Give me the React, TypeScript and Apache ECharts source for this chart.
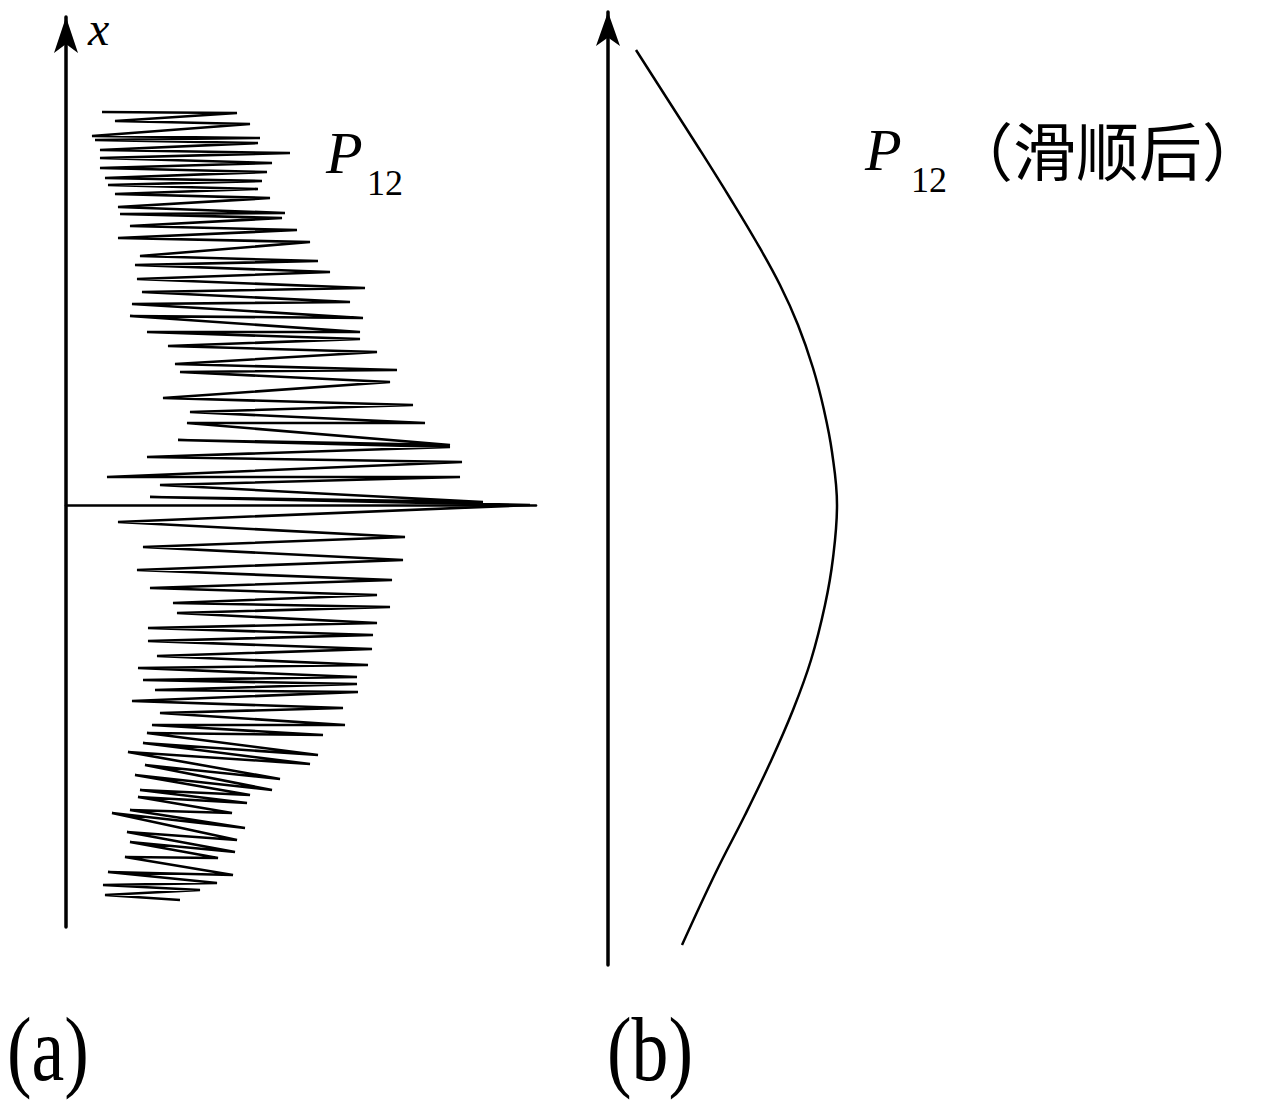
import React, { useEffect, useRef } from "react";
import * as echarts from "echarts";

// Panel (a): raw P12 zigzag. Points alternate left / right turning points.
// amplitude of P12 (horizontal) and position along x (vertical, 0 at the centre line)
const rawP12Amp = [
  36, 171, 49, 184, 26, 194, 29, 192, 34, 224, 34, 206, 34, 201, 39, 196, 42, 192, 49, 204,
  52, 219, 54, 216, 64, 231, 52, 244, 74, 252, 69, 264, 71, 299, 76, 284, 66, 297, 64, 294,
  81, 294, 102, 311, 109, 331, 114, 324, 97, 347, 124, 359, 121, 384, 112, 384, 81, 396, 41, 394,
  94, 417, 84, 464, 52, 339, 77, 337, 71, 326, 84, 311, 107, 324, 111, 311, 82, 307, 82, 306,
  91, 302, 72, 291, 77, 291, 89, 292, 66, 277, 94, 279, 86, 257, 81, 252, 77, 244, 62, 214,
  79, 206, 69, 184, 74, 181, 72, 166, 64, 179, 46, 171, 61, 169, 64, 152, 59, 167, 42, 151,
  37, 134, 39, 114,
];
const rawP12Pos = [
  393, 392, 384, 381, 369, 367, 365, 362, 355, 352, 347, 342, 337, 333, 327, 324, 320, 316, 311, 307,
  298, 292, 291, 287, 279, 275, 267, 263, 249, 244, 240, 233, 226, 217, 213, 203, 201, 187, 189, 173,
  173, 166, 159, 153, 141, 135, 133, 123, 107, 100, 93, 82, 82, 60, 65, 58, 48, 43, 28, 28,
  20, 3, 8, 0, -17, -32, -42, -55, -65, -75, -83, -90, -98, -102, -108, -118, -123, -130, -136, -144,
  -151, -160, -163, -172, -175, -179, -185, -187, -196, -203, -208, -220, -220, -230, -228, -250, -238, -259, -247, -274,
  -260, -285, -270, -290, -285, -298, -292, -308, -305, -323, -308, -335, -327, -347, -337, -353, -352, -370, -367, -378,
  -380, -385, -390, -395,
];

// Panel (b): smoothed P12
const smoothP12Amp = [28, 60, 92, 122, 149, 172, 190, 205, 216, 224, 229, 225, 217, 203, 185, 162, 137, 108, 74];
const smoothP12Pos = [455, 405, 355, 307, 262, 220, 180, 137, 95, 53, 0, -53, -100, -155, -205, -258, -310, -367, -440];

// Labels
const axisName = "x";
const seriesLabel = "P";
const seriesSub = "12";
const smoothNote = "（滑顺后）";
const panelLabels = ["(a)", "(b)"];

const SERIF = '"Liberation Serif"';
const CJK = '"Noto Sans CJK SC"';

function zip(a: number[], b: number[]) {
  const n = Math.min(a.length, b.length);
  const out: number[][] = [];
  for (let i = 0; i < n; i++) out.push([a[i], b[i]]);
  return out;
}

export default function App() {
  const ref = useRef<HTMLDivElement>(null);
  useEffect(() => {
    if (!ref.current) return;
    const chart = echarts.init(ref.current, undefined, { renderer: "svg" });
    const hidden = { show: false };
    const txt = (x: number, y: number, text: string, font: string, el: any = {}) => ({
      type: "text",
      x,
      y,
      ...el,
      style: {
        text,
        font,
        fill: "#000",
        align: "left",
        verticalAlign: "middle",
        textAlign: "left",
        textVerticalAlign: "middle",
      },
    });
    chart.setOption({
      animation: false,
      backgroundColor: "#fff",
      grid: [
        { left: 66, top: 17, width: 470, height: 910 },
        { left: 608, top: 12, width: 400, height: 953 },
      ],
      xAxis: [
        {
          type: "value",
          gridIndex: 0,
          min: 0,
          max: 470,
          axisLine: { show: true, onZero: true, lineStyle: { color: "#000", width: 2.6 } },
          axisTick: hidden,
          axisLabel: hidden,
          splitLine: hidden,
        },
        {
          type: "value",
          gridIndex: 1,
          min: 0,
          max: 400,
          axisLine: hidden,
          axisTick: hidden,
          axisLabel: hidden,
          splitLine: hidden,
        },
      ],
      yAxis: [
        {
          type: "value",
          gridIndex: 0,
          min: -422,
          max: 488,
          axisLine: {
            show: true,
            onZero: true,
            symbol: ["none", "arrow"],
            symbolSize: [18, 36],
            lineStyle: { color: "#000", width: 3.5 },
          },
          axisTick: hidden,
          axisLabel: hidden,
          splitLine: hidden,
        },
        {
          type: "value",
          gridIndex: 1,
          min: -460,
          max: 493,
          axisLine: {
            show: true,
            onZero: false,
            symbol: ["none", "arrow"],
            symbolSize: [18, 34],
            lineStyle: { color: "#000", width: 3.5 },
          },
          axisTick: hidden,
          axisLabel: hidden,
          splitLine: hidden,
        },
      ],
      series: [
        {
          type: "line",
          xAxisIndex: 0,
          yAxisIndex: 0,
          data: zip(rawP12Amp, rawP12Pos),
          showSymbol: false,
          lineStyle: { color: "#000", width: 2.6 },
          silent: true,
        },
        {
          type: "line",
          xAxisIndex: 1,
          yAxisIndex: 1,
          data: zip(smoothP12Amp, smoothP12Pos),
          smooth: 0.4,
          showSymbol: false,
          lineStyle: { color: "#000", width: 2.5 },
          silent: true,
        },
      ],
      graphic: [
        txt(88, 28, axisName, `italic 48px ${SERIF}`),
        txt(326, 153, seriesLabel, `italic 60px ${SERIF}`),
        txt(367, 183, seriesSub, `normal 36px ${SERIF}`),
        txt(865, 150, seriesLabel, `italic 60px ${SERIF}`),
        txt(911, 180, seriesSub, `normal 36px ${SERIF}`),
        txt(950, 147, smoothNote, `normal 63px ${CJK}`),
        txt(7, 1050, panelLabels[0], `normal 90px ${SERIF}`, { scaleX: 0.82 }),
        txt(607, 1050, panelLabels[1], `normal 90px ${SERIF}`, { scaleX: 0.82 }),
      ],
    });
    return () => chart.dispose();
  }, []);
  return (
    <div
      ref={ref}
      style={{ position: "absolute", left: 0, top: 0, width: 1266, height: 1100 }}
    />
  );
}
